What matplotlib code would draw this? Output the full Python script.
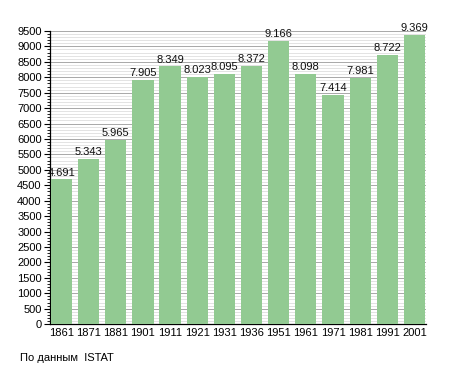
import matplotlib
matplotlib.use('Agg')
import matplotlib.pyplot as plt
from matplotlib.ticker import MultipleLocator

plt.rcParams['font.family'] = ['Liberation Sans', 'DejaVu Sans']

# Population by census year
years = ['1861', '1871', '1881', '1901', '1911', '1921', '1931',
         '1936', '1951', '1961', '1971', '1981', '1991', '2001']
population = [4691, 5343, 5965, 7905, 8349, 8023, 8095,
              8372, 9166, 8098, 7414, 7981, 8722, 9369]

fig = plt.figure(figsize=(4.55, 3.73), dpi=100)
ax = fig.add_axes([0.110, 0.131, 0.826, 0.786])

x = range(len(years))
bars = ax.bar(x, population, width=0.78, color='#92ca92', zorder=3)

# value labels on top of bars
for xi, v in zip(x, population):
    ax.text(xi, v + 60, f'{v:,}'.replace(',', '.'), ha='center', va='bottom',
            fontsize=8, color='#111111', zorder=4)

ax.set_xlim(-0.42, len(years) - 0.58)
ax.set_ylim(0, 9500)
ax.set_xticks(list(x))
ax.set_xticklabels(years)

ax.yaxis.set_major_locator(MultipleLocator(500))
ax.yaxis.set_minor_locator(MultipleLocator(100))
ax.grid(axis='y', which='minor', color='#dedede', linewidth=0.6, zorder=0)
ax.grid(axis='y', which='major', color='#a8a8a8', linewidth=0.7, zorder=1)

for side in ['top', 'right']:
    ax.spines[side].set_visible(False)
ax.spines['left'].set_linewidth(0.9)
ax.spines['bottom'].set_linewidth(0.9)

ax.tick_params(axis='y', which='major', length=4, width=0.8, labelsize=8, pad=2)
ax.tick_params(axis='y', which='minor', length=2, width=0.6)
ax.tick_params(axis='x', length=0, labelsize=8, pad=3)

fig.text(0.044, 0.028, 'По данным  ISTAT', fontsize=8, ha='left', va='bottom')

fig.savefig('out.png', dpi=100)
